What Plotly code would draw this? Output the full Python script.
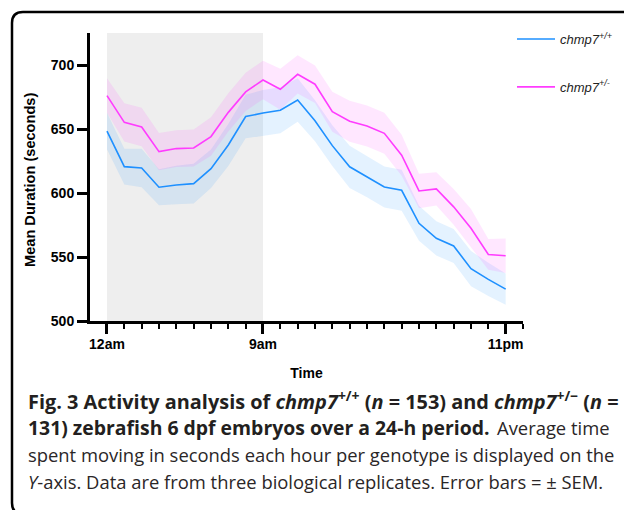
import plotly.graph_objects as go

# ---------------- data ----------------
hours = list(range(24))
tick_hours = [0, 9, 23]
tick_labels = ["12am", "9am", "11pm"]
y_ticks = [500, 550, 600, 650, 700]

wt_mean = [648.4, 620.6, 619.5, 604.5, 606.3, 607.3, 619.0, 637.5, 659.7, 662.5, 664.6, 672.7,
           656.5, 637.0, 620.5, 612.6, 604.7, 602.1, 576.3, 564.6, 558.6, 540.9, 532.5, 524.9]
wt_sem = [14.3, 14.0, 15.0, 14.0, 15.0, 15.5, 15.0, 16.5, 17.0, 18.0, 18.0, 17.0,
          16.0, 16.0, 16.5, 16.0, 16.0, 16.0, 13.7, 13.4, 13.3, 13.7, 13.0, 12.3]
het_mean = [676.1, 655.2, 651.6, 632.3, 634.7, 635.2, 644.1, 663.0, 679.0, 688.3, 681.0, 692.7,
            685.0, 663.5, 656.0, 652.3, 646.6, 629.5, 601.6, 603.2, 589.2, 572.5, 552.0, 551.0]
het_sem = [13.5, 15.0, 15.0, 14.6, 14.3, 14.5, 15.0, 15.0, 15.0, 15.0, 16.0, 15.0,
           14.6, 15.6, 16.0, 16.0, 16.0, 16.0, 13.5, 13.0, 14.0, 15.0, 12.0, 13.5]
dark_period = [0, 9]

series = [
    ("<i>chmp7</i><sup>+/+</sup>", wt_mean, wt_sem, "#1E90FF", "rgba(30,144,255,0.12)"),
    ("<i>chmp7</i><sup>+/-</sup>", het_mean, het_sem, "#FF3CFF", "rgba(255,60,255,0.12)"),
]

# ---------------- layout geometry (pixels) ----------------
W, H = 624, 510
L, R, T, B = 90, 101, 33, 189
PW, PH = W - L - R, H - T - B


def px(x):
    return (x - L) / PW


def py(y):
    return (H - B - y) / PH


fig = go.Figure()

for name, m, s, col, fcol in series:
    up = [a + b for a, b in zip(m, s)]
    lo = [a - b for a, b in zip(m, s)]
    fig.add_trace(go.Scatter(x=hours, y=up, mode="lines", line=dict(width=0),
                             hoverinfo="skip", showlegend=False))
    fig.add_trace(go.Scatter(x=hours, y=lo, mode="lines", line=dict(width=0),
                             fill="tonexty", fillcolor=fcol, hoverinfo="skip",
                             showlegend=False))

for i, (name, m, s, col, fcol) in enumerate(series):
    fig.add_trace(go.Scatter(x=hours, y=m, mode="lines", name=name,
                             legendgroup="g%d" % i,
                             line=dict(color=col, width=1.6)))

# dark period shading
fig.add_shape(type="rect", xref="x", yref="paper", x0=dark_period[0], x1=dark_period[1],
              y0=0, y1=1, fillcolor="#EEEEEE", line=dict(width=0), layer="below")

# figure frame with rounded corners
r = 11
path = (f"M {px(640)},{py(12)} L {px(12 + r)},{py(12)} Q {px(12)},{py(12)} {px(12)},{py(12 + r)} "
        f"L {px(12)},{py(514 - r)} Q {px(12)},{py(514)} {px(12 + r)},{py(514)} L {px(640)},{py(514)}")
fig.add_shape(type="path", xref="paper", yref="paper", path=path,
              line=dict(color="black", width=2.5), layer="above")

axis_font = dict(family="Liberation Sans, Arial", size=14, color="black", weight="bold")
title_font = dict(family="Liberation Sans, Arial", size=14.6, color="black", weight="bold")

fig.update_xaxes(range=[-0.98, 24], showline=True, linewidth=3, linecolor="black",
                 showgrid=False, zeroline=False, ticks="outside", ticklen=10, tickwidth=2.5,
                 tickcolor="black", tickmode="array", tickvals=tick_hours, ticktext=tick_labels,
                 tickfont=axis_font, ticklabelstandoff=-2,
                 minor=dict(ticks="outside", tick0=0, dtick=1, ticklen=5, tickwidth=2.2,
                            tickcolor="black", showgrid=False),
                 title=dict(text="Time", font=axis_font, standoff=18))
fig.update_yaxes(range=[500, 725], showline=True, linewidth=3, linecolor="black",
                 showgrid=False, zeroline=False, ticks="outside", ticklen=10, tickwidth=2.5,
                 tickcolor="black", tickmode="array", tickvals=y_ticks, tickfont=axis_font)

# y-axis title as rotated text
fig.add_annotation(text="Mean Duration (seconds)", textangle=-90, xref="paper", yref="paper",
                   x=px(30), y=py(180), xanchor="center", yanchor="middle", showarrow=False,
                   font=title_font)

# caption
bold1_font = dict(family="Open Sans", size=19.9, color="#231F20")
bold2_font = dict(family="Open Sans", size=19.4, color="#231F20")
reg_font = dict(family="Open Sans", size=18.4, color="#2A2627")
caption = [
    ("<b>Fig. 3 Activity analysis of <i>chmp7</i><sup>+/+</sup> (<i>n</i> = 153) and "
     "<i>chmp7</i><sup>+/−</sup> (<i>n</i> =</b>", 26, 400, bold1_font),
    ("<b>131) zebrafish 6 dpf embryos over a 24-h period.</b>", 26, 427, bold2_font),
    ("Average time", 495, 427, reg_font),
    ("spent moving in seconds each hour per genotype is displayed on the", 26, 454, reg_font),
    ("<i>Y</i>-axis. Data are from three biological replicates. Error bars = ± SEM.", 26, 481.5,
     reg_font),
]
for txt, xx, yy, f in caption:
    fig.add_annotation(text=txt, xref="paper", yref="paper", x=px(xx), y=py(yy),
                       xanchor="left", yanchor="middle", showarrow=False, font=f)

fig.update_layout(
    width=W, height=H, margin=dict(l=L, r=R, t=T, b=B, autoexpand=False),
    paper_bgcolor="white", plot_bgcolor="white",
    legend=dict(x=px(512), y=py(24), xanchor="left", yanchor="top", itemwidth=38,
                font=dict(family="Liberation Sans, Arial", size=13, color="#222222", style="italic"),
                tracegroupgap=28, traceorder="grouped", bgcolor="rgba(0,0,0,0)"),
)

fig.write_html("out.html", config={"displayModeBar": False},
               post_script="document.body.style.margin='0';document.body.style.padding='0';")
